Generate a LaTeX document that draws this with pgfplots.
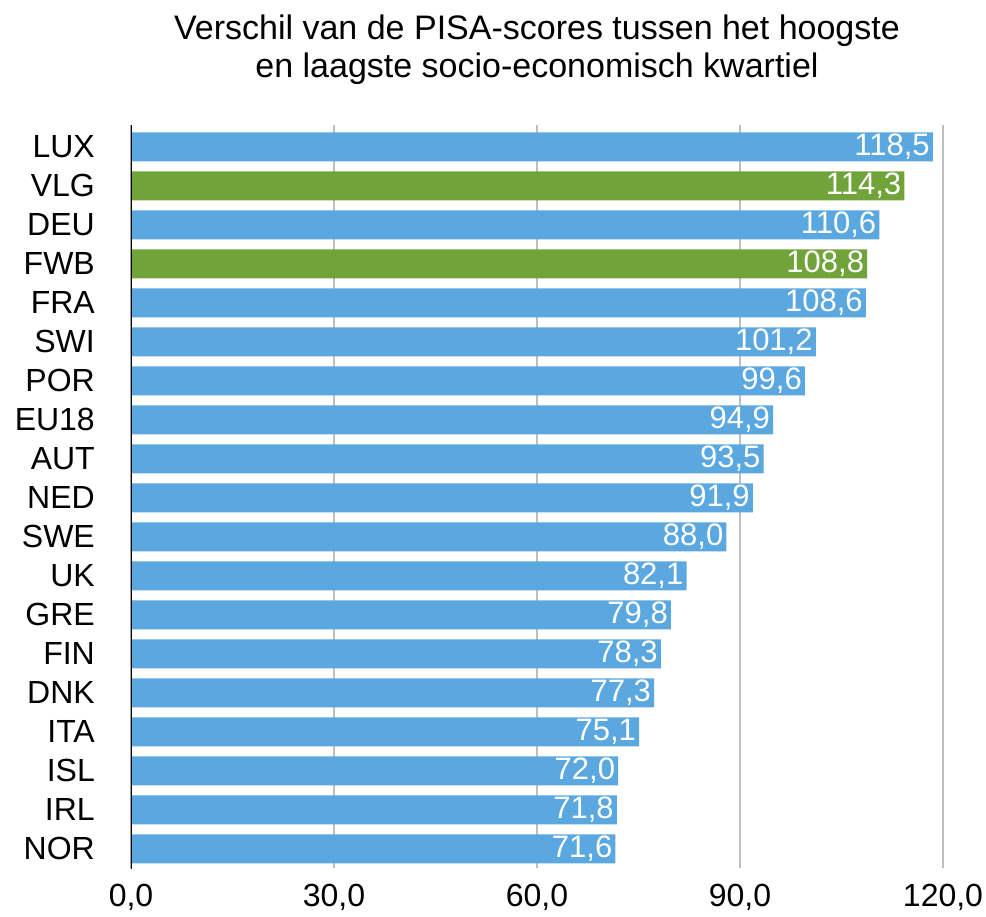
\documentclass[border=0pt]{standalone}
\usepackage{pgfplots}
\pgfplotsset{compat=1.18}
\usepackage{fontspec}
\setmainfont{Liberation Sans}
\definecolor{barblue}{RGB}{90,168,223}
\definecolor{bargreen}{RGB}{112,164,58}
\definecolor{gridgray}{RGB}{190,190,190}
\begin{document}
\begin{tikzpicture}
\begin{axis}[
  at={(0,0)}, anchor=south west,
  scale only axis, width=812pt, height=743pt,
  xmin=0, xmax=120, ymin=-0.56, ymax=18.49,
  y dir=reverse,
  xbar, bar width=29pt, bar shift=0pt,
  axis line style={draw=none},
  major tick length=0pt,
  xtick={0,30,60,90,120},
  xmajorgrids, grid style={gridgray, line width=2.5pt},
  xticklabel style={font=\fontsize{32}{36}\selectfont, inner sep=0pt, anchor=north, yshift=-16pt,
    /pgf/number format/.cd, fixed, fixed zerofill, precision=1, use comma, assume math mode=true},
  ytick={0,...,18},
  yticklabels={LUX,VLG,DEU,FWB,FRA,SWI,POR,EU18,AUT,NED,SWE,UK,GRE,FIN,DNK,ITA,ISL,IRL,NOR},
  yticklabel style={font=\fontsize{32}{36}\selectfont, inner sep=0pt, anchor=east, xshift=-36pt},
  point meta=x,
  nodes near coords={\pgfmathprintnumber[fixed,fixed zerofill,precision=1,use comma,assume math mode=true]{\pgfplotspointmeta}},
  nodes near coords style={font=\fontsize{31}{34}\selectfont, text=white, anchor=east, inner sep=0pt, xshift=-3pt},
]
\addplot[fill=barblue, draw=none] coordinates {
 (118.5,0) (110.6,2) (108.6,4) (101.2,5) (99.6,6) (94.9,7) (93.5,8) (91.9,9)
 (88.0,10) (82.1,11) (79.8,12) (78.3,13) (77.3,14) (75.1,15) (72.0,16) (71.8,17) (71.6,18)};
\addplot[fill=bargreen, draw=none] coordinates {(114.3,1) (108.8,3)};
\draw[black, line width=2.5pt] (axis cs:0,-0.56) -- (axis cs:0,18.6);
\end{axis}
\node[anchor=base, font=\fontsize{34}{38}\selectfont] at (406pt,828pt) {Verschil van de PISA-scores tussen het hoogste};
\node[anchor=base, font=\fontsize{34}{38}\selectfont] at (406pt,790pt) {en laagste socio-economisch kwartiel};
\pgfresetboundingbox
\path[use as bounding box] (-131pt,-49pt) rectangle (855pt,868pt);
\end{tikzpicture}
\end{document}
